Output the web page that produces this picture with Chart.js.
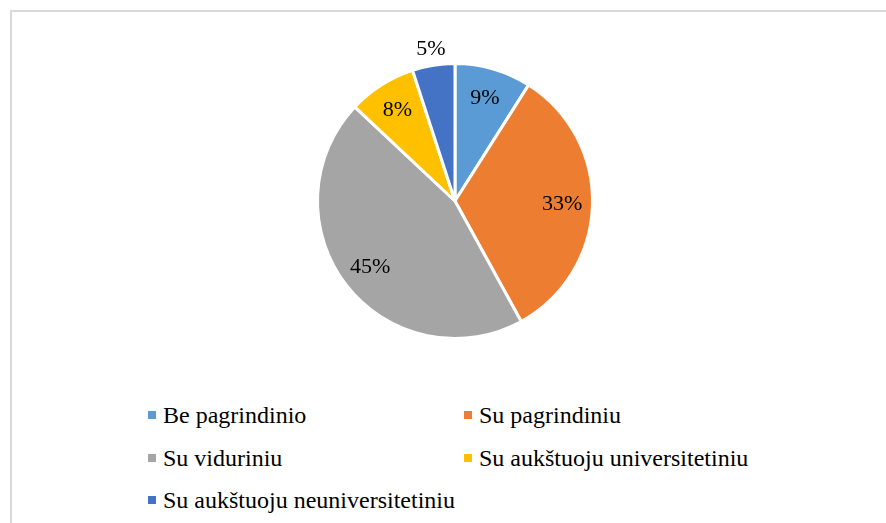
<!DOCTYPE html>
<html>
<head>
<meta charset="utf-8">
<script src="https://cdn.jsdelivr.net/npm/chart.js@4/dist/chart.umd.min.js"></script>
<style>
  html, body { margin: 0; padding: 0; background: #fff; }
  body { width: 886px; height: 523px; position: relative; overflow: hidden; font-family: "Liberation Serif", Tinos, "Times New Roman", Times, "DejaVu Serif", serif; }
  #frame { position: absolute; left: 10px; top: 10px; width: 900px; height: 540px; border-left: 2px solid #d9d9d9; border-top: 2px solid #d9d9d9; box-sizing: border-box; }
  #pie { position: absolute; left: 155px; top: 0; width: 600px; height: 402px; }
  #legend { position: absolute; left: 0; top: 0; }
  .item { position: absolute; display: flex; align-items: center; font-size: 24px; color: #000; white-space: nowrap; line-height: 26px; }
  .item span.box { width: 8px; height: 8px; margin-right: 7px; display: inline-block; }
</style>
</head>
<body>
<div id="frame"></div>
<div id="pie"><canvas id="chart-canvas"></canvas></div>
<div id="legend"></div>
<script>
const labels = ['Be pagrindinio', 'Su pagrindiniu', 'Su viduriniu', 'Su aukštuoju universitetiniu', 'Su aukštuoju neuniversitetiniu']
const values = [9, 33, 45, 8, 5]
const colors = ['#5b9bd5', '#ed7d31', '#a5a5a5', '#ffc000', '#4472c4']

const serif = '"Liberation Serif", Tinos, "Times New Roman", Times, "DejaVu Serif", serif'

// percent labels, small slices go outside
const pctLabels = {
    id: 'pctLabels',
    afterDatasetsDraw(chart) {
        const ctx = chart.ctx
        const meta = chart.getDatasetMeta(0)
        ctx.save()
        ctx.font = '22px ' + serif
        ctx.fillStyle = '#000'
        ctx.textAlign = 'center'
        ctx.textBaseline = 'middle'
        meta.data.forEach((arc, i) => {
            const mid = (arc.startAngle + arc.endAngle) / 2
            const r = values[i] < 6 ? arc.outerRadius + 16 : arc.outerRadius * 0.78
            ctx.fillText(values[i] + '%', arc.x + Math.cos(mid) * r, arc.y + Math.sin(mid) * r)
        })
        ctx.restore()
    }
}

new Chart(document.getElementById('chart-canvas'), {
    type: 'pie',
    data: {
        labels: labels,
        datasets: [{
            data: values,
            backgroundColor: colors,
            borderColor: '#fff',
            borderWidth: 3,
            hoverOffset: 0
        }]
    },
    options: {
        responsive: true,
        maintainAspectRatio: false,
        animation: false,
        layout: { padding: 62 },
        plugins: {
            legend: { display: false },
            tooltip: { enabled: false }
        }
    },
    plugins: [pctLabels]
})

// legend in two columns
const legend = document.getElementById('legend')
const cols = [148, 464]
const rows = [415, 458, 500]
labels.forEach((l, i) => {
    const d = document.createElement('div')
    d.className = 'item'
    d.style.left = cols[i % 2] + 'px'
    d.style.top = (rows[Math.floor(i / 2)] - 13) + 'px'
    d.innerHTML = '<span class="box" style="background:' + colors[i] + '"></span>' + l
    legend.appendChild(d)
})
</script>
</body>
</html>
